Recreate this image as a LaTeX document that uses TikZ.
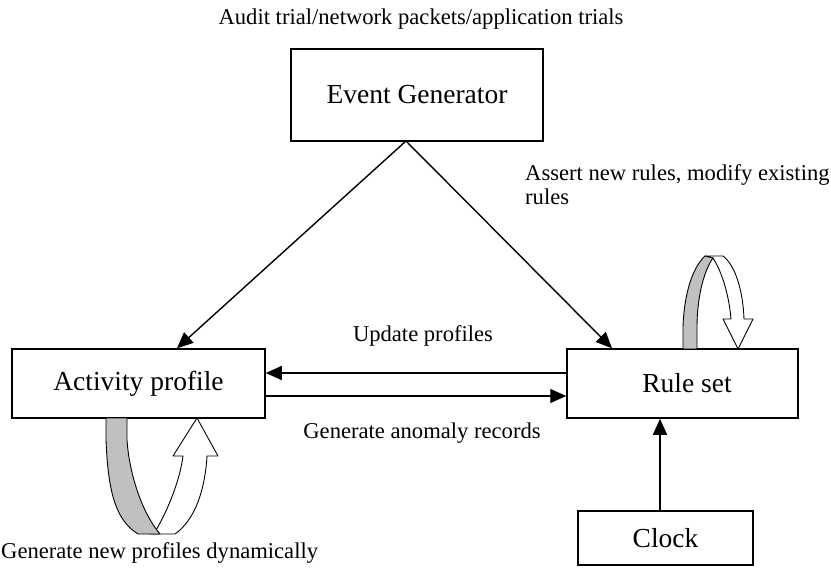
\documentclass[tikz,border=0pt]{standalone}
\usepackage{fontspec}
\setmainfont{Liberation Serif}
\usetikzlibrary{arrows.meta}
\definecolor{ribbongray}{RGB}{192,192,192}
\begin{document}
\begin{tikzpicture}[x=1pt,y=-1pt,
  box/.style={draw,line width=1.5pt,inner sep=0pt,font=\fontsize{27.5}{30}\selectfont},
  lbl/.style={inner sep=0pt,font=\fontsize{22.6}{26}\selectfont,align=left},
  arr/.style={line width=1.4pt,-{Triangle[length=16pt,width=14pt]}},
  rib/.style={draw=black,line width=0.9pt,line join=round}]
\useasboundingbox (0,0) rectangle (831,572);
% boxes
\node[box,minimum width=252pt,minimum height=92pt] (ev) at (417,95) {Event Generator};
\node[box,minimum width=253pt,minimum height=69pt] (act) at (138.5,383.5) {Activity profile};
\node[box,minimum width=231pt,minimum height=69pt] (rs) at (682.5,383.5) {\hspace*{9pt}Rule set};
\node[box,minimum width=175pt,minimum height=54pt] (clk) at (665.5,538) {Clock};
% labels
\node[lbl] (top) at (421,19) {Audit trial/network packets/application trials};
\node[lbl,anchor=west] (assert) at (525,175) {Assert new rules, modify existing};
\node[lbl,anchor=west] (assert2) at (525,197) {rules};
\node[lbl] (upd) at (423,336) {Update profiles};
\node[lbl] (gen) at (422,433) {Generate anomaly records};
\node[lbl,anchor=west] (dyn) at (1,553) {Generate new profiles dynamically};
% connector points
\coordinate (apex) at (406,141);
\coordinate (ax) at (177,0);
\coordinate (rx) at (612,0);
\coordinate (upy) at (0,373);
\coordinate (loy) at (0,396);
\coordinate (cx) at (660,0);
% connectors
\draw[arr] (apex) -- (act.north -| ax);
\draw[arr] (apex) -- (rs.north -| rx);
\draw[arr] (rs.west |- upy) -- (act.east |- upy);
\draw[arr] (act.east |- loy) -- (rs.west |- loy);
\draw[arr] (clk.north -| cx) -- (rs.south -| cx);
% activity ribbon
\filldraw[rib,fill=white] (155,532) .. controls (168,510) and (180,480) .. (183,456)
  -- (173,456) -- (197,418) -- (218,456) -- (207,456)
  .. controls (205,490) and (195,520) .. (175,534) -- (150,534) -- cycle;
\filldraw[rib,fill=ribbongray] (106,418) -- (106,440) .. controls (108,490) and (115,520) .. (138,534)
  -- (160,534) .. controls (140,510) and (129,470) .. (127,440) -- (127,418) -- cycle;
% rule set ribbon
\filldraw[rib,fill=white] (705,256) -- (723,256) .. controls (735,265) and (743,290) .. (744,319)
  -- (753,319) -- (738,349) -- (723,319) -- (731,319)
  .. controls (729,295) and (722,272) .. (713,258) -- cycle;
\filldraw[rib,fill=ribbongray] (683,349) -- (683,327) .. controls (684,295) and (692,268) .. (705,256)
  -- (713,258) .. controls (703,272) and (697,300) .. (697,327) -- (697,349) -- cycle;
\end{tikzpicture}
\end{document}
